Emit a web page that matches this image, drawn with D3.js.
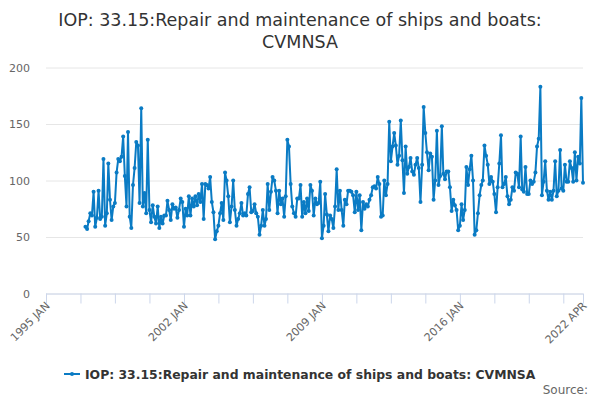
<!DOCTYPE html>
<html>
<head>
<meta charset="utf-8">
<script src="https://cdn.jsdelivr.net/npm/d3@7"></script>
<style>
  html, body { margin: 0; padding: 0; background: #fff; }
  svg text { font-family: "DejaVu Sans", Verdana, sans-serif; }
</style>
</head>
<body>
<div id="chart"></div>
<script>
const seriesName = 'IOP: 33.15:Repair and maintenance of ships and boats: CVMNSA';
const titleLines = ['IOP: 33.15:Repair and maintenance of ships and boats:', 'CVMNSA'];
const sourceText = 'Source:';

// monthly values, first one is 1997 JAN
const firstMonth = [1997, 0];
const values = [
  59, 57, 64, 71, 69, 90, 59, 67, 91, 66, 68, 119,
  60, 71, 115, 83, 65, 77, 80, 107, 119, 117, 121, 139,
  104, 77, 143, 68, 58, 96, 111, 134, 131, 80, 164, 77,
  89, 71, 136, 74, 63, 78, 68, 62, 77, 58, 68, 62,
  69, 69, 82, 74, 65, 79, 75, 76, 67, 74, 84, 81,
  59, 75, 69, 86, 69, 84, 77, 86, 78, 88, 81, 97,
  66, 97, 96, 93, 103, 81, 72, 48, 55, 60, 71, 80,
  65, 107, 100, 86, 63, 77, 100, 74, 60, 66, 71, 80,
  69, 71, 69, 88, 94, 72, 73, 79, 71, 68, 52, 60,
  74, 60, 66, 97, 74, 90, 103, 100, 91, 71, 91, 79,
  84, 68, 86, 136, 130, 97, 77, 71, 68, 84, 84, 96,
  68, 81, 71, 84, 73, 96, 91, 69, 84, 79, 80, 99,
  49, 60, 88, 70, 55, 69, 66, 58, 77, 110, 74, 91,
  74, 60, 83, 79, 91, 91, 90, 87, 72, 90, 74, 87,
  56, 81, 75, 79, 77, 83, 87, 94, 95, 93, 103, 97,
  68, 69, 100, 87, 97, 152, 117, 130, 142, 131, 114, 122,
  153, 118, 89, 130, 106, 112, 120, 108, 105, 114, 120, 111,
  81, 114, 165, 142, 125, 109, 124, 121, 83, 100, 144, 96,
  104, 148, 106, 101, 108, 108, 94, 73, 83, 78, 74, 56,
  60, 79, 65, 74, 112, 96, 110, 122, 100, 52, 56, 71,
  87, 96, 100, 131, 122, 114, 97, 103, 99, 88, 72, 94,
  115, 140, 94, 97, 103, 86, 79, 83, 94, 91, 107, 106,
  94, 139, 92, 90, 112, 88, 88, 100, 97, 99, 107, 130,
  137, 183, 87, 99, 117, 91, 83, 90, 83, 91, 117, 86,
  91, 127, 93, 91, 114, 99, 99, 117, 111, 99, 125, 100,
  121, 115, 173, 98
];

const yTicks = [0, 50, 100, 150, 200];
const axisStart = [1995, 0];
const axisEnd = [2022, 3];
const tickStepMonths = 21;
const labelledTicks = ['1995 JAN', '2002 JAN', '2009 JAN', '2016 JAN', '2022 APR'];

const width = 600;
const height = 400;
const margin = { top: 67.5, right: 17, bottom: 106.5, left: 46 };
const color = '#0a7bc4';
const monthNames = ['JAN', 'FEB', 'MAR', 'APR', 'MAY', 'JUN', 'JUL', 'AUG', 'SEP', 'OCT', 'NOV', 'DEC'];

const data = values.map((v, i) => ({
  date: new Date(Date.UTC(firstMonth[0], firstMonth[1] + i, 1)),
  value: v
}));

const svg = d3.select('#chart')
  .append('svg')
  .attr('width', width)
  .attr('height', height);

const x = d3.scaleUtc()
  .domain([new Date(Date.UTC(...axisStart, 1)), new Date(Date.UTC(...axisEnd, 1))])
  .range([margin.left, width - margin.right]);

const y = d3.scaleLinear()
  .domain([0, 200])
  .range([height - margin.bottom, margin.top]);

// title
svg.append('g')
  .selectAll('text')
  .data(titleLines)
  .enter()
  .append('text')
  .attr('x', width / 2)
  .attr('y', (d, i) => 26 + i * 22)
  .attr('text-anchor', 'middle')
  .attr('fill', '#333')
  .style('font-size', '17.5px')
  .text(d => d);

// gridlines + y labels
const yAxis = d3.axisLeft(y)
  .tickValues(yTicks)
  .tickSize(-(width - margin.left - margin.right))
  .tickPadding(16);

svg.append('g')
  .attr('class', 'yaxis')
  .attr('transform', `translate(${margin.left},0)`)
  .call(yAxis)
  .call(g => g.select('.domain').remove())
  .call(g => g.selectAll('.tick line').attr('stroke', '#e6e6e6'))
  .call(g => g.selectAll('.tick text')
    .attr('fill', '#666')
    .style('font-size', '11px')
    .style('font-family', '"DejaVu Sans", sans-serif'));

// x ticks every 21 months, plus the last month
const tickDates = [];
const totalMonths = (axisEnd[0] - axisStart[0]) * 12 + axisEnd[1] - axisStart[1];
for (let m = 0; m < totalMonths; m += tickStepMonths) {
  tickDates.push(new Date(Date.UTC(axisStart[0], axisStart[1] + m, 1)));
}
tickDates.push(new Date(Date.UTC(...axisEnd, 1)));

const fmt = d => `${d.getUTCFullYear()} ${monthNames[d.getUTCMonth()]}`;

const xAxis = d3.axisBottom(x)
  .tickValues(tickDates)
  .tickSize(10)
  .tickFormat(d => labelledTicks.includes(fmt(d)) ? fmt(d) : '');

svg.append('g')
  .attr('class', 'xaxis')
  .attr('transform', `translate(0,${height - margin.bottom})`)
  .call(xAxis)
  .call(g => g.select('.domain').attr('stroke', '#ccd6eb').attr('d', `M${margin.left},0.5H${width - margin.right}`))
  .call(g => g.selectAll('.tick line').attr('stroke', '#ccd6eb'))
  .call(g => g.selectAll('.tick text')
    .attr('fill', '#666')
    .style('font-size', '11px')
    .style('font-family', '"DejaVu Sans", sans-serif')
    .attr('text-anchor', 'end')
    .attr('dy', null)
    .attr('y', 0)
    .attr('transform', 'translate(4,13) rotate(-45)'));

// series
const line = d3.line()
  .x(d => x(d.date))
  .y(d => y(d.value));

svg.append('path')
  .datum(data)
  .attr('fill', 'none')
  .attr('stroke', color)
  .attr('stroke-width', 2)
  .attr('stroke-linejoin', 'round')
  .attr('d', line);

svg.append('g')
  .selectAll('circle')
  .data(data)
  .enter()
  .append('circle')
  .attr('cx', d => x(d.date))
  .attr('cy', d => y(d.value))
  .attr('r', 2)
  .attr('fill', color);

// legend
const legend = svg.append('g').attr('transform', 'translate(64,374)');
legend.append('line')
  .attr('x1', 0).attr('x2', 16)
  .attr('stroke', color)
  .attr('stroke-width', 2);
legend.append('circle')
  .attr('cx', 8)
  .attr('r', 2)
  .attr('fill', color);
legend.append('text')
  .attr('x', 21)
  .attr('y', 4.5)
  .attr('fill', '#333')
  .style('font-size', '12.4px')
  .style('font-weight', 'bold')
  .text(seriesName);

svg.append('text')
  .attr('x', 588)
  .attr('y', 394)
  .attr('text-anchor', 'end')
  .attr('fill', '#666')
  .style('font-size', '12px')
  .text(sourceText);
</script>
</body>
</html>
